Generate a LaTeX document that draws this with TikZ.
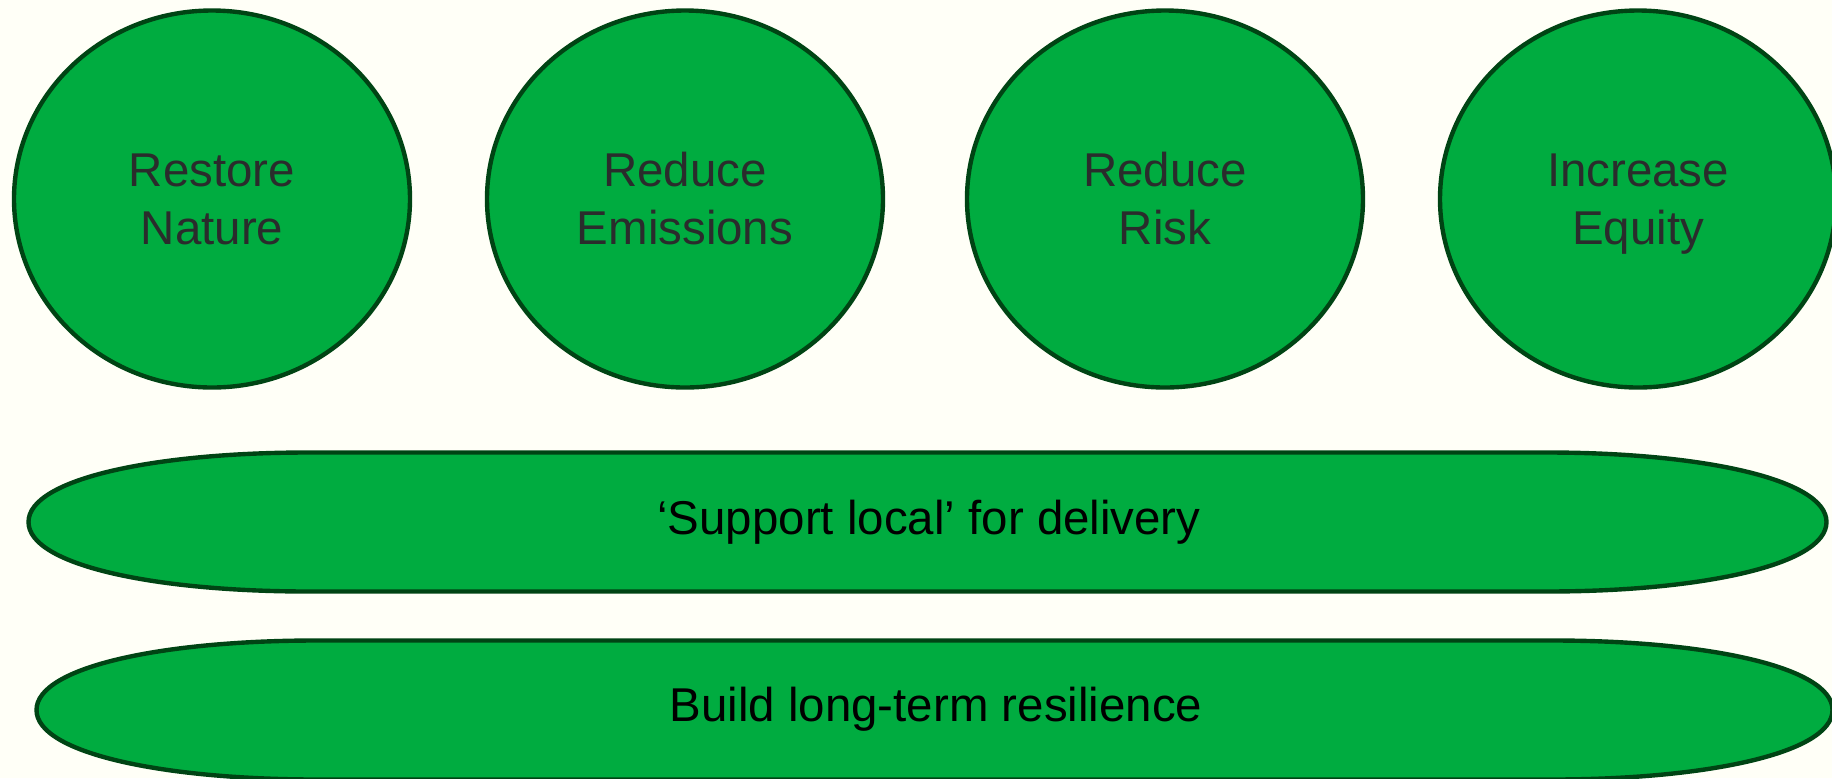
\documentclass[tikz,border=0pt]{standalone}
\usepackage{fontspec}
\setmainfont{Liberation Sans}
\usetikzlibrary{shapes.geometric}
\usetikzlibrary{positioning}
\definecolor{bgCream}{RGB}{255,255,247}
\definecolor{leafGreen}{RGB}{0,172,64}
\definecolor{darkGreen}{RGB}{0,68,20}
\definecolor{textGrey}{RGB}{42,44,44}
\tikzset{every picture/.style={semithick}}

\begin{document}
\begin{tikzpicture}[
        goal/.style={ellipse, draw=darkGreen, fill=leafGreen, line width=1.25pt,
            minimum width=3.96cm, minimum height=3.77cm, align=center,
            text=textGrey, font=\fontsize{13.5}{16.5}\selectfont},
        band/.style={draw=darkGreen, fill=leafGreen, line width=1.25pt},
        bandtext/.style={text=black, font=\fontsize{13.5}{16.5}\selectfont}]
            \useasboundingbox (0,0) rectangle (18.32,7.78);
            \fill[bgCream] (0,0) rectangle (18.32,7.78);

            \node[goal] (restore) at (2.12,5.79) {Restore\\Nature};
            \node[goal] (emissions) at (6.85,5.79) {Reduce\\Emissions};
            \node[goal] (risk) at (11.65,5.79) {Reduce\\Risk};
            \node[goal] (equity) at (16.38,5.79) {Increase\\\smash{Equity}};

            \draw[band] (3.085,3.255) -- (15.465,3.255)
                .. controls (17.005,3.255) and (18.265,2.991) .. (18.265,2.56)
                .. controls (18.265,2.129) and (17.005,1.865) .. (15.465,1.865)
                -- (3.085,1.865)
                .. controls (1.545,1.865) and (0.285,2.129) .. (0.285,2.56)
                .. controls (0.285,2.991) and (1.545,3.255) .. (3.085,3.255) -- cycle;
            \node[bandtext] (local) at (9.29,2.56) {‘Support local’ for delivery};

            \draw[band] (3.165,1.375) -- (15.525,1.375)
                .. controls (17.065,1.375) and (18.325,1.111) .. (18.325,0.68)
                .. controls (18.325,0.249) and (17.065,-0.015) .. (15.525,-0.015)
                -- (3.165,-0.015)
                .. controls (1.625,-0.015) and (0.365,0.249) .. (0.365,0.68)
                .. controls (0.365,1.111) and (1.625,1.375) .. (3.165,1.375) -- cycle;
            \node[bandtext] (resilience) at (9.36,0.69) {Build long-term resilience};
        \end{tikzpicture}
\end{document}
